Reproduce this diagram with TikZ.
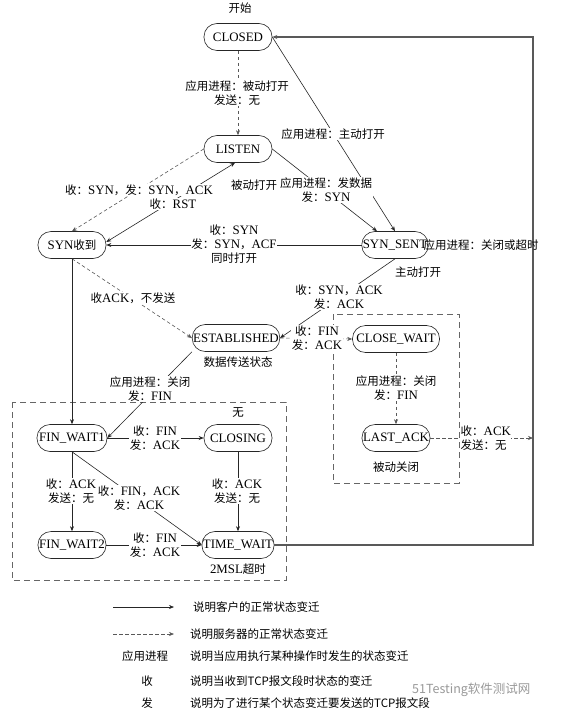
\documentclass[tikz,border=0pt]{standalone}
\usepackage{fontspec}
\setmainfont{Noto Sans CJK SC}
\newfontfamily\enfont{Liberation Serif}[Scale=1.12]
\newcommand\en[1]{{\enfont #1}}
\usetikzlibrary{arrows.meta}

\tikzset{
  state/.style={draw=black!85, line width=0.6pt, rectangle, rounded corners=13pt,
    minimum height=27pt, minimum width=68pt, inner xsep=1pt, fill=white},
  lbl/.style={fill=white, inner sep=0.5pt, align=center},
  note/.style={inner sep=0pt, anchor=west},
  cli/.style={draw=black!85, line width=0.6pt, -{Stealth[length=5pt,width=4pt]}},
  srv/.style={cli, draw=black!65, dash pattern=on 3.5pt off 2.5pt},
  zone/.style={draw=black!60, line width=0.7pt, dash pattern=on 6pt off 4pt},
  loopln/.style={draw=black!65, line width=1.1pt, -{Stealth[length=5pt,width=4pt]}},
}

\begin{document}
\begin{tikzpicture}[x=1pt, y=-1pt, font=\fontsize{11.5}{14}\selectfont]
        \useasboundingbox (0,0) rectangle (564,717);

        % frames
        \draw[zone] (12,402) rectangle (286,580);
        \draw[zone] (333,314) rectangle (459,483);

        % states
        \node (start) at (240,8) {开始};
        \node[state] (closed) at (238,37) {\en{CLOSED}};
        \node[state] (listen) at (238,149) {\en{LISTEN}};
        \node[state] (synrcvd) at (72,245) {\en{SYN}收到};
        \node[state, minimum width=66pt] (synsent) at (395,245) {\en{SYN\_SENT}};
        \node[state] (established) at (236,338) {\en{ESTABLISHED}};
        \node[state, minimum width=87pt] (closewait) at (396,339) {\en{CLOSE\_WAIT}};
        \node[state] (lastack) at (396,438) {\en{LAST\_ACK}};
        \node[state, minimum width=70pt] (finwait1) at (72,438) {\en{FIN\_WAIT1}};
        \node[state] (closing) at (238,438) {\en{CLOSING}};
        \node[state] (finwait2) at (72,545) {\en{FIN\_WAIT2}};
        \node[state] (timewait) at (238,545) {\en{TIME\_WAIT}};

        \coordinate (turn) at (533,545);

        % transitions
        \draw[srv] (closed) -- (listen);
        \draw[cli] (closed.east) -- (synsent.north);
        \draw[cli] (listen.east) -- ([xshift=-18pt]synsent.north);
        \draw[srv] (listen.west) -- (synrcvd.north);
        \draw[cli, {Stealth[length=5pt,width=4pt]}-{Stealth[length=5pt,width=4pt]}] ([yshift=3pt]synrcvd.east) -- ([xshift=-3pt]listen.south);
        \draw[cli] (synsent.west) -- (synrcvd.east);
        \draw[cli] (synsent.south) -- (established.east);
        \draw[srv] (synrcvd.south) -- (established.west);
        \draw[srv] (established.east) -- (closewait.west);
        \draw[cli] (synrcvd.south) -- (finwait1.north);
        \draw[cli] (established.south west) -- (finwait1.east);
        \draw[cli] (finwait1) -- (closing);
        \draw[cli] (finwait1) -- (finwait2);
        \draw[cli] (finwait1.south) -- (timewait.west);
        \draw[cli] (closing) -- (timewait);
        \draw[cli] (finwait2) -- (timewait);
        \draw[srv] (closewait) -- (lastack);
        \draw[srv] (lastack.east) -- (lastack.east -| turn);
        \draw[loopln] (timewait.east) -- (turn) |- (closed.east);

        % labels
        \node[lbl] (l1) at (237,93) {应用进程：被动打开\\发送：无};
        \node[lbl] (l2) at (333,134) {应用进程：主动打开};
        \node[lbl] (l3) at (326,190) {应用进程：发数据\\发：\en{SYN}};
        \node[note, anchor=center] (l4) at (254,185) {被动打开};
        \node[lbl] (l5) at (139,190) {收：\en{SYN}，发：\en{SYN}，\en{ACK}};
        \node[lbl] (l6) at (173,204) {收：\en{RST}};
        \node[lbl] (l7) at (234,244) {收：\en{SYN}\\发：\en{SYN}，\en{ACF}\\同时打开};
        \node[note, anchor=center] (l8) at (481,245) {应用进程：关闭或超时};
        \node[note, anchor=center] (l9) at (418,272) {主动打开};
        \node[lbl] (l10) at (339,297) {收：\en{SYN}，\en{ACK}\\发：\en{ACK}};
        \node[lbl] (l11) at (133,298) {收\en{ACK}，不发送};
        \node[lbl] (l12) at (317,338) {收：\en{FIN}\\发：\en{ACK}};
        \node[note, anchor=center] (l13) at (238,362) {数据传送状态};
        \node[lbl] (l14) at (396,388) {应用进程：关闭\\发：\en{FIN}};
        \node[lbl, anchor=west, align=left] (l15) at (460,438) {收：\en{ACK}\\发送：无};
        \node[note, anchor=center] (l16) at (396,467) {被动关闭};
        \node[lbl] (l17) at (150,389) {应用进程：关闭\\发：\en{FIN}};
        \node[lbl] (l18) at (238,413) {无};
        \node[lbl] (l19) at (155,438) {收：\en{FIN}\\发：\en{ACK}};
        \node[lbl] (l20) at (71,491) {收：\en{ACK}\\发送：无};
        \node[lbl] (l21) at (139,498) {收：\en{FIN}，\en{ACK}\\发：\en{ACK}};
        \node[lbl] (l22) at (237,491) {收：\en{ACK}\\发送：无};
        \node[lbl] (l23) at (155,545) {收：\en{FIN}\\发：\en{ACK}};
        \node[note, anchor=center] (l24) at (238,569) {\en{2MSL}超时};

        % legend
        \coordinate (k1a) at (113,607);
        \coordinate (k1b) at (174,607);
        \coordinate (k2a) at (113,634);
        \coordinate (k2b) at (174,634);
        \draw[cli] (k1a) -- (k1b);
        \draw[srv] (k2a) -- (k2b);
        \node[note] (t1) at (193,607) {说明客户的正常状态变迁};
        \node[note] (t2) at (190,634) {说明服务器的正常状态变迁};
        \node[note, anchor=center] (k3) at (145,656) {应用进程};
        \node[note] (t3) at (190,656) {说明当应用执行某种操作时发生的状态变迁};
        \node[note, anchor=center] (k4) at (147,681) {收};
        \node[note] (t4) at (190,681) {说明当收到TCP报文段时状态的变迁};
        \node[note, anchor=center] (k5) at (147,703) {发};
        \node[note] (t5) at (190,703) {说明为了进行某个状态变迁要发送的TCP报文段};
        \node[note, text=black!40, font=\fontsize{12.5}{14}\selectfont] (wm) at (412,690) {51Testing软件测试网};
    \end{tikzpicture}
\end{document}
